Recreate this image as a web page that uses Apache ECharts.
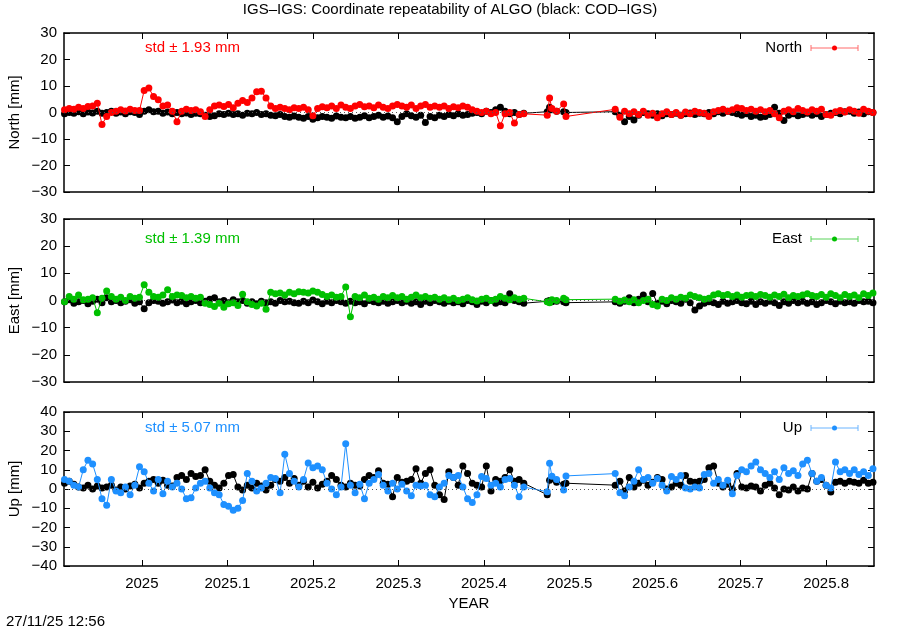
<!DOCTYPE html>
<html><head><meta charset="utf-8">
<script src="https://cdn.jsdelivr.net/npm/echarts@6/dist/echarts.min.js"></script>
<style>html,body{margin:0;padding:0;background:#fff}#c{width:900px;height:630px}</style>
</head><body><div id="c"></div><script>
// Day numbers counted from 2025-01-01 (negative = late 2024)
const daysA = [-33,-31,-29,-27,-25,-23,-21,-19,-17,-15,
 -13,-11,-9,-7,-5,-3,-1,1,3,5,
 7,9,11,13,15,17,19,21,23,25,
 27,29,31,33,35,37,39,41,43,45,
 47,49,51,53,55,57,59,61,63,65,
 67,69,71,73,75,77,79,81,83,85,
 87,89,91,93,95,97,99,101,103,105,
 107,109,111,113,115,117,119,121,123,125,
 127,129,131,133,135,137,139,141,143,145,
 147,149,151,153,155,157,159,161,163];
const daysB = [173,174,175,177,180,181];
const daysC = [202,204,206,208,210,212,214,216,218,220,
 222,224,226,228,230,232,234,236,238,240,
 242,244,246,248,250,252,254,256,258,260,
 262,264,266,268,270,272,274,276,278,280,
 282,284,286,288,290,292,294,296,298,300,
 302,304,306,308,310,312];

const xTickValues = [2025.0,2025.1,2025.2,2025.3,2025.4,2025.5,2025.6,2025.7,2025.8];
const yTicksNE = [-30,-20,-10,0,10,20,30];
const yTicksUp = [-40,-30,-20,-10,0,10,20,30,40];

// North (IGS-IGS, red)
const northIGS = [
 1.0,1.5,1.2,2.0,1.5,2.3,2.5,3.5,-4.5,-1.5,
 0.0,0.5,1.0,0.6,1.2,0.8,0.8,8.3,9.2,6.0,
 4.8,2.5,2.8,0.5,-3.5,0.5,1.2,0.8,1.0,0.3,
 -1.5,1.0,2.5,2.8,2.3,3.0,1.8,3.5,4.5,3.8,
 5.5,7.8,8.0,5.5,2.5,1.5,2.0,1.5,1.0,1.8,
 1.5,2.0,1.0,-1.2,1.5,2.2,1.8,2.5,1.5,2.8,
 2.0,1.5,2.5,3.0,2.2,2.5,1.8,2.8,2.0,1.5,
 2.5,3.0,2.5,2.0,2.8,1.5,2.5,3.0,2.0,2.5,
 2.0,2.5,1.5,2.2,1.8,2.5,2.0,1.0,0.5,0.0,
 0.5,-0.5,0.0,-5.0,-0.5,0.0,-4.0,-0.8,-0.5,
 -1.0,5.5,1.5,0.5,3.2,-1.5,
 1.2,-1.8,0.5,-0.5,0.3,-0.8,0.5,-1.0,-0.3,-2.0,
 -0.5,0.3,-0.8,0.0,-1.0,0.2,-0.5,0.5,0.0,-0.3,
 -1.5,0.3,0.8,1.2,0.5,1.0,1.8,1.5,0.8,1.2,
 0.5,1.0,0.3,0.8,-0.5,-2.0,0.5,1.0,0.3,1.5,
 0.8,0.2,1.0,0.5,1.2,-0.8,-1.0,0.3,0.8,0.2,
 1.0,0.5,-0.3,1.2,0.5,0.0];
// North (COD-IGS, black)
const northCOD = [
 -0.5,0.0,-0.3,0.3,-0.5,0.2,-0.2,0.5,-0.3,0.0,
 0.5,-0.3,0.2,-0.5,0.3,0.0,-0.8,0.5,1.0,0.3,
 0.5,-0.3,0.2,-0.5,0.0,-0.5,-0.2,-0.8,-0.3,-0.5,
 -1.0,-1.5,-1.2,-0.5,-0.8,-0.3,-0.8,-0.5,-1.0,-0.3,
 -0.5,0.0,-0.8,-0.5,-1.0,-1.2,-0.8,-1.5,-1.8,-1.3,
 -1.8,-2.2,-1.5,-2.5,-2.0,-1.5,-1.8,-2.2,-1.3,-1.8,
 -2.0,-1.5,-2.2,-1.8,-1.2,-2.0,-1.5,-1.0,-1.8,-1.3,
 -2.0,-3.5,-1.5,-0.5,-1.2,-1.8,-1.0,-3.8,-1.5,-2.0,
 -1.0,-1.5,-0.8,-1.2,-0.5,-1.0,-0.8,-0.3,0.0,-0.5,
 0.5,0.0,1.0,2.0,0.5,-0.5,0.0,-0.8,-0.3,
 0.3,2.0,1.0,0.5,0.3,0.0,
 0.3,-1.0,-3.5,-1.5,-2.8,-1.0,0.0,-0.5,-1.0,-0.5,
 -1.2,-0.5,-0.8,-0.3,-1.0,-0.5,-0.2,-0.8,-0.3,-0.5,
 0.0,-0.5,0.3,-0.3,0.5,0.0,-0.5,-1.0,-0.5,-1.5,
 -1.0,-1.8,-1.5,-0.8,2.0,-0.3,-3.0,-1.0,-0.5,-1.2,
 -0.8,-0.3,-1.0,-0.5,-1.5,-0.8,-0.3,0.0,-0.5,0.3,
 0.5,-0.3,0.2,-0.5,0.3,0.0];

// East (IGS-IGS, green)
const eastIGS = [
 -0.5,1.5,0.5,2.0,0.3,0.5,1.0,-4.5,0.8,3.5,
 1.5,0.5,1.2,0.0,1.5,0.8,1.2,5.8,3.0,1.5,
 1.2,2.0,4.0,1.5,2.0,1.8,1.0,1.5,0.8,1.2,
 -1.0,-1.5,-2.2,-1.0,-2.5,-1.2,-0.8,-1.8,2.3,-0.5,
 -1.5,-2.0,-1.0,-3.2,3.0,2.5,2.8,2.0,3.0,2.5,
 3.2,3.0,2.8,3.5,3.0,2.2,1.5,2.0,1.2,1.5,
 5.0,-6.0,1.5,1.0,2.0,0.8,1.2,0.5,1.5,1.0,
 1.8,1.0,1.5,0.5,1.2,2.0,1.0,1.5,0.8,1.2,
 0.5,1.0,0.3,0.8,0.0,0.5,1.0,0.3,-0.2,0.5,
 0.8,0.0,0.5,1.5,0.8,0.3,1.0,0.5,0.8,
 -0.5,-0.8,0.3,0.0,0.8,0.3,
 0.5,-0.3,0.2,-0.5,0.3,-0.8,0.0,0.5,-1.5,-2.0,
 0.5,0.0,1.0,0.5,1.2,0.8,2.0,1.5,1.0,0.5,
 0.8,2.0,2.5,1.8,2.2,1.5,2.0,1.2,1.8,2.0,
 1.5,2.2,1.8,1.2,2.0,1.5,2.3,1.0,1.8,1.5,
 2.0,2.5,1.8,1.5,2.2,1.2,2.5,1.8,1.0,2.2,
 1.5,2.0,1.0,2.5,1.8,2.8];
// East (COD-IGS, black)
const eastCOD = [
 -0.5,0.3,-1.0,-0.5,0.0,-1.2,-0.3,0.5,-0.8,1.0,
 -0.5,0.0,-0.8,-0.3,0.3,-1.0,-0.5,-3.0,-0.8,0.0,
 -0.3,-1.0,-0.5,0.2,-0.8,-0.3,-1.2,-0.5,0.0,-0.8,
 -0.3,0.5,1.0,-0.5,0.0,-0.8,0.3,-0.5,0.0,-1.0,
 -0.5,-1.2,-0.3,-0.8,-0.5,-1.0,0.0,-0.5,-0.3,-0.8,
 -1.0,-0.3,-0.8,0.2,-0.5,-1.2,-0.3,-0.8,0.0,-0.5,
 -1.0,-0.3,-0.8,-0.5,-1.2,0.0,-0.5,-0.8,-0.3,-1.0,
 -0.5,0.0,-0.8,-0.3,-1.0,-0.5,-1.5,-0.3,-0.8,0.0,
 -0.5,-1.0,-0.3,-0.8,-0.5,-1.2,0.0,-0.5,-1.5,-0.3,
 -0.8,0.0,-1.0,-0.5,-0.8,2.5,0.0,-0.5,-1.0,
 -0.3,0.0,-0.5,-0.3,-0.5,-0.8,
 -0.5,-1.0,-0.3,1.0,-0.8,0.5,2.0,-0.5,2.6,-1.0,
 -0.3,-1.2,0.0,-0.5,-1.0,0.5,-0.8,-3.5,-2.0,-1.0,
 -0.5,-0.8,-1.5,-0.3,-1.0,-0.5,0.0,-0.8,-1.2,-0.3,
 -1.5,-0.5,-1.0,-0.3,-0.8,-1.8,-0.5,-1.0,0.0,-0.8,
 -0.3,-1.0,-0.5,-1.5,-0.8,0.0,-0.5,-1.2,-0.3,-0.8,
 -0.5,-1.0,0.0,-0.5,-0.3,-0.8];

// Up (IGS-IGS, blue)
const upIGS = [
 5.0,4.0,2.0,1.0,10.0,15.0,13.0,5.0,-5.0,-8.5,
 5.0,-1.0,-2.0,1.0,-3.0,2.0,11.5,9.0,3.0,-1.0,
 5.0,-2.5,4.0,1.0,3.0,0.0,-5.0,-4.5,0.5,3.0,
 4.0,0.5,-2.0,-3.0,-8.0,-9.0,-11.0,-10.0,-6.0,8.0,
 4.0,-1.0,0.5,3.0,6.0,5.5,-2.0,18.0,8.0,4.0,
 1.0,5.0,13.5,11.0,12.0,10.0,3.0,0.0,-3.0,1.0,
 23.5,2.0,-2.0,2.5,-5.0,3.0,5.0,7.5,2.0,-1.0,
 3.0,0.0,2.5,-1.0,-3.5,2.0,1.5,2.0,-3.0,-4.0,
 1.0,3.0,7.0,6.0,7.0,1.0,-5.0,-7.0,-3.0,6.5,
 5.5,2.0,3.0,1.0,5.0,5.5,2.0,-4.0,1.0,
 -1.4,13.4,6.6,5.0,-0.5,6.8,
 8.0,-2.0,-3.5,1.0,4.0,10.0,5.0,6.0,3.0,5.5,
 2.0,-1.0,6.5,5.0,7.0,0.5,0.0,1.0,0.5,7.5,
 8.0,3.0,5.0,2.0,4.5,-2.5,7.0,10.0,9.0,12.0,
 14.0,10.0,8.0,6.0,9.0,5.0,11.0,8.0,9.5,7.0,
 13.0,15.0,8.0,4.0,6.0,2.0,0.5,14.0,9.0,10.0,
 8.0,10.0,7.5,9.0,7.0,10.5];
// Up (COD-IGS, black)
const upCOD = [
 3.0,4.0,2.5,1.0,0.5,2.0,0.0,1.5,0.5,1.0,
 2.0,-0.5,1.0,0.0,1.5,2.5,0.5,3.0,4.0,5.0,
 3.0,4.5,2.0,1.5,6.0,7.0,5.0,8.0,6.5,7.0,
 10.0,4.0,2.0,0.5,3.0,7.0,7.5,1.0,-0.5,2.0,
 0.5,3.0,1.5,-0.5,2.0,5.0,4.0,6.0,3.0,5.5,
 2.0,4.0,1.0,3.5,0.5,2.5,4.0,7.0,5.0,2.0,
 1.0,3.0,2.0,1.5,5.0,7.0,6.0,9.5,3.0,2.5,
 -4.0,6.0,3.5,4.0,5.0,10.5,3.0,8.0,10.0,2.0,
 -3.0,-5.5,9.0,6.0,2.0,12.0,8.0,3.0,2.0,1.0,
 12.0,-1.0,5.0,4.0,6.0,10.0,4.0,5.0,3.0,
 -3.0,4.5,5.5,3.5,2.5,3.0,
 2.0,4.0,-1.0,6.0,1.0,3.0,4.5,2.0,3.5,6.0,
 5.0,0.0,1.0,3.0,2.0,7.0,4.0,3.5,4.0,5.0,
 11.0,12.0,3.0,1.0,2.5,0.0,8.0,1.0,0.5,1.5,
 1.0,-1.0,2.0,3.0,0.5,-3.0,0.0,-0.5,1.0,-1.0,
 0.5,0.0,8.0,4.0,5.0,2.0,-1.5,3.5,4.0,3.0,
 4.0,3.5,3.0,4.5,3.0,3.5];

const compNames = ['North','East','Up'];
const stdValues = ['1.93','1.39','5.07'];

// ---------------------------------------------------------------
const FONT = "'Liberation Sans',Arial,sans-serif";
const days = daysA.concat(daysB, daysC);
const years = days.map(d => 2025 + d / 365);
const pair = arr => years.map((t, k) => [t, arr[k]]);

const colors = ['#ff0000', '#00c000', '#1e90ff'];
const legendLineColors = ['#ff6a6a', '#5ad35a', '#6ab4ff'];
const igsData = [northIGS, eastIGS, upIGS];
const codData = [northCOD, eastCOD, upCOD];
const grids = [
  {top: 33, height: 159, min: -30, max: 30, ticks: yTicksNE, label: 48},
  {top: 219, height: 163, min: -30, max: 30, ticks: yTicksNE, label: 239},
  {top: 412, height: 154, min: -40, max: 40, ticks: yTicksUp, label: 428}
];
const X0 = 64, X1 = 874, XMIN = 2024.909, XMAX = 2025.856;

const option = {
  animation: false,
  backgroundColor: '#fff',
  textStyle: {fontFamily: FONT},
  title: {
    text: 'IGS\u2013IGS: Coordinate repeatability of ALGO (black: COD\u2013IGS)',
    left: 'center', top: 2, padding: 0,
    textStyle: {fontFamily: FONT, fontSize: 15, fontWeight: 'normal', color: '#000'}
  },
  grid: grids.map(g => ({left: X0, width: X1 - X0, top: g.top, height: g.height,
    show: false, containLabel: false})),
  xAxis: [], yAxis: [], series: [], graphic: []
};

grids.forEach((g, i) => {
  const tickStyle = {show: true, inside: true, length: 6, lineStyle: {color: '#000', width: 1}};
  option.xAxis.push({
    type: 'value', gridIndex: i, min: XMIN, max: XMAX, position: 'bottom',
    axisLine: {show: true, onZero: false, lineStyle: {color: '#000', width: 1.5}},
    axisTick: Object.assign({customValues: xTickValues}, tickStyle),
    axisLabel: {show: i === 2, customValues: xTickValues, margin: 10, color: '#000', fontSize: 15,
      fontFamily: FONT, formatter: v => String(+v.toFixed(1))},
    splitLine: {show: false}
  });
  option.xAxis.push({
    type: 'value', gridIndex: i, min: XMIN, max: XMAX, position: 'top',
    axisLine: {show: true, onZero: false, lineStyle: {color: '#000', width: 1.5}},
    axisTick: Object.assign({customValues: xTickValues}, tickStyle),
    axisLabel: {show: false}, splitLine: {show: false}
  });
  option.yAxis.push({
    type: 'value', gridIndex: i, min: g.min, max: g.max, interval: 10, position: 'left',
    axisLine: {show: true, onZero: false, lineStyle: {color: '#000', width: 1.5}},
    axisTick: tickStyle,
    axisLabel: {show: true, margin: 7, color: '#000', fontSize: 15, fontFamily: FONT,
      formatter: v => (v < 0 ? '\u2212' + Math.abs(v) : String(v))},
    splitLine: {show: false}
  });
  option.yAxis.push({
    type: 'value', gridIndex: i, min: g.min, max: g.max, interval: 10, position: 'right',
    axisLine: {show: true, onZero: false, lineStyle: {color: '#000', width: 1.5}},
    axisTick: tickStyle, axisLabel: {show: false}, splitLine: {show: false}
  });
  option.series.push({
    type: 'line', xAxisIndex: 2 * i, yAxisIndex: 2 * i, data: pair(codData[i]),
    symbol: 'circle', symbolSize: 7, showAllSymbol: true,
    itemStyle: {color: '#000'}, lineStyle: {color: '#000', width: 1}, z: 2,
    markLine: {silent: true, symbol: 'none', label: {show: false}, animation: false,
      lineStyle: {color: '#555', type: [1, 3], width: 1}, data: [{yAxis: 0}]}
  });
  option.series.push({
    type: 'line', xAxisIndex: 2 * i, yAxisIndex: 2 * i, data: pair(igsData[i]),
    symbol: 'circle', symbolSize: 7, showAllSymbol: true,
    itemStyle: {color: colors[i]}, lineStyle: {color: colors[i], width: 1}, z: 3
  });
  const ly = g.label;
  option.graphic.push(
    {type: 'text', x: 145, y: ly, style: {text: 'std \u00b1 ' + stdValues[i] + ' mm',
      fill: colors[i], font: '15px ' + FONT, textAlign: 'left', textVerticalAlign: 'middle'}},
    {type: 'text', x: 802, y: ly, style: {text: compNames[i], fill: '#000',
      font: '15px ' + FONT, textAlign: 'right', textVerticalAlign: 'middle'}},
    {type: 'line', shape: {x1: 811, y1: ly, x2: 858, y2: ly}, style: {stroke: legendLineColors[i], lineWidth: 1}},
    {type: 'line', shape: {x1: 811, y1: ly - 3, x2: 811, y2: ly + 3}, style: {stroke: legendLineColors[i], lineWidth: 1}},
    {type: 'line', shape: {x1: 858, y1: ly - 3, x2: 858, y2: ly + 3}, style: {stroke: legendLineColors[i], lineWidth: 1}},
    {type: 'circle', shape: {cx: 834.5, cy: ly, r: 2.5}, style: {fill: colors[i]}},
    {type: 'text', x: 15, y: g.top + g.height / 2, rotation: Math.PI / 2,
      style: {text: compNames[i] + ' [mm]', fill: '#000', font: '15px ' + FONT,
        textAlign: 'center', textVerticalAlign: 'middle'}}
  );
});
option.graphic.push(
  {type: 'text', x: 469, y: 604, style: {text: 'YEAR', fill: '#000', font: '15px ' + FONT,
    textAlign: 'center', textVerticalAlign: 'middle'}},
  {type: 'text', x: 6, y: 622, style: {text: '27/11/25 12:56', fill: '#000', font: '15px ' + FONT,
    textAlign: 'left', textVerticalAlign: 'middle'}}
);

const chart = echarts.init(document.getElementById('c'), null, {renderer: 'canvas'});
chart.setOption(option);
</script></body></html>
